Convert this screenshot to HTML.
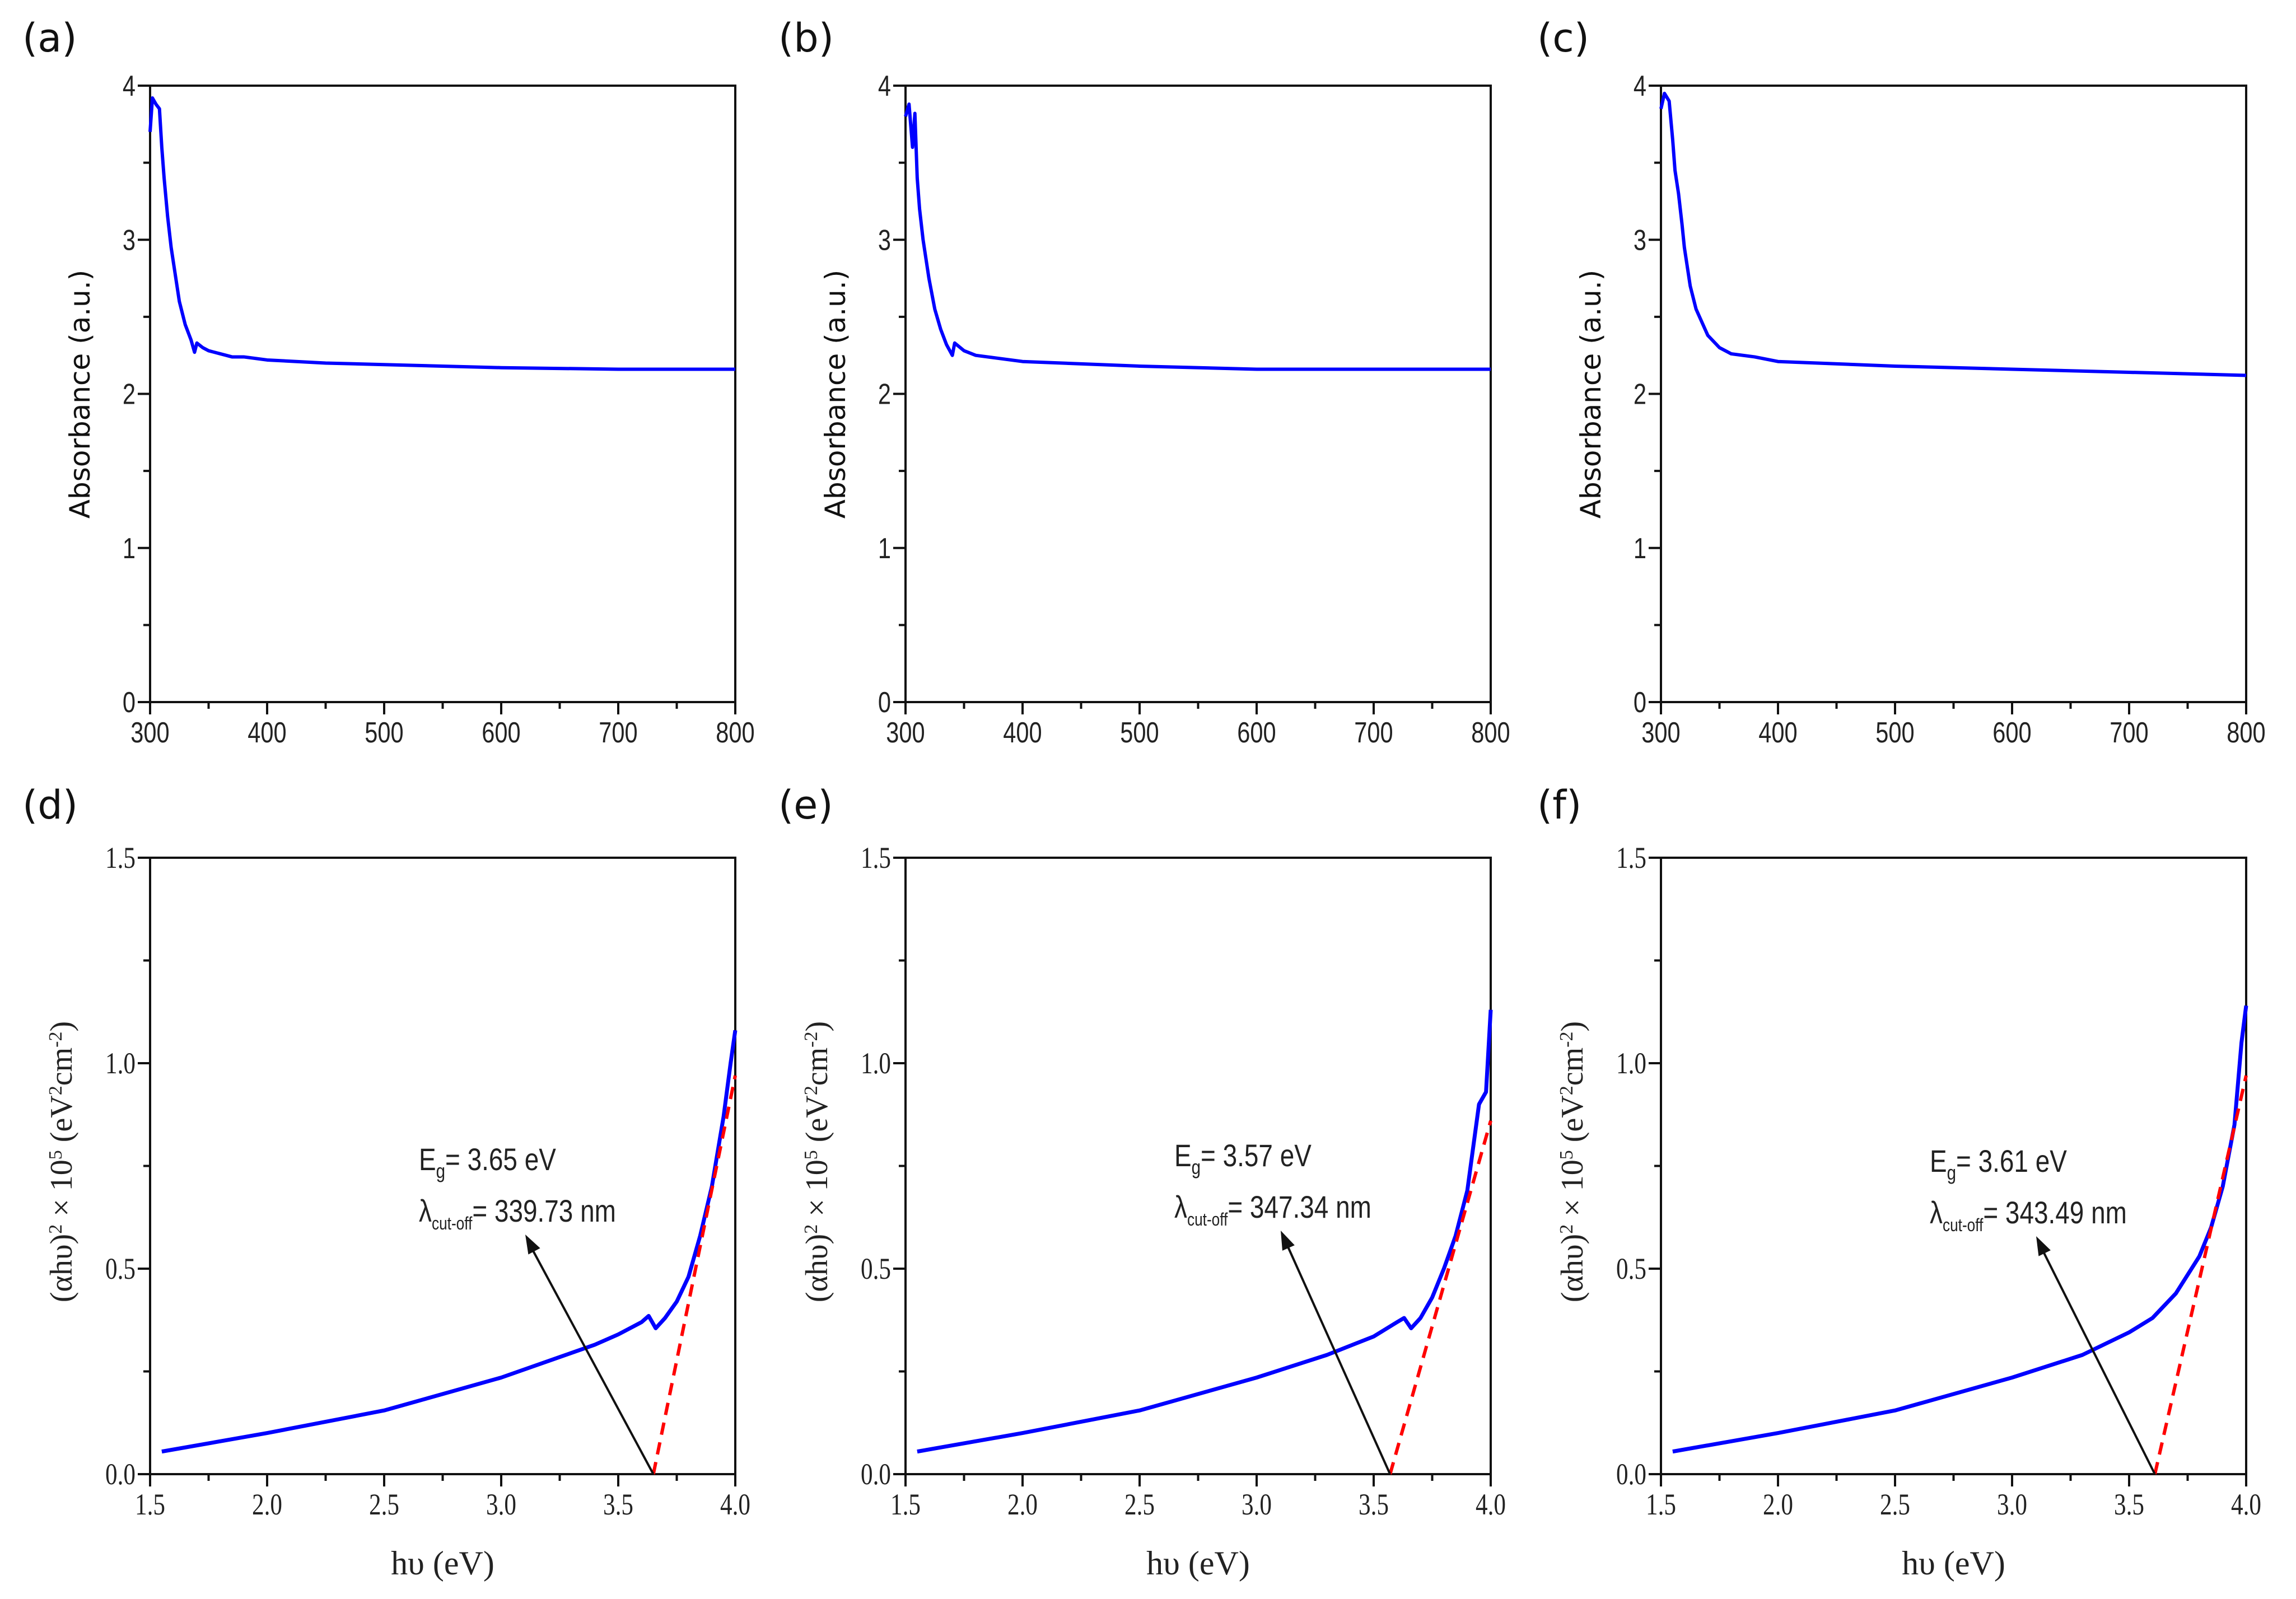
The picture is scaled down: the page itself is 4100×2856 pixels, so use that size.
<!DOCTYPE html>
<html><head><meta charset="utf-8"><style>
html,body{margin:0;padding:0;background:#fff;}
svg{display:block;}
</style></head><body>
<svg id="fig" xmlns="http://www.w3.org/2000/svg" width="4100" height="2856" viewBox="0 0 4100 2856"></svg>
<script>
// ---- data ----
const absX_a = [300,302,305,308,310,312,315,318,320,325,330,335,338,340,345,350,360,370,380,400,450,500,600,700,800];
const absY_a = [3.7,3.92,3.88,3.85,3.6,3.4,3.15,2.95,2.85,2.6,2.45,2.35,2.27,2.33,2.3,2.28,2.26,2.24,2.24,2.22,2.2,2.19,2.17,2.16,2.16];
const absX_b = [300,303,306,308,310,312,315,318,320,325,330,335,340,342,350,360,380,400,500,600,800];
const absY_b = [3.8,3.88,3.6,3.82,3.4,3.2,3.0,2.85,2.75,2.55,2.42,2.32,2.25,2.33,2.28,2.25,2.23,2.21,2.18,2.16,2.16];
const absX_c = [300,303,307,310,312,315,318,320,325,330,340,350,360,380,400,500,600,700,800];
const absY_c = [3.85,3.95,3.9,3.65,3.45,3.3,3.1,2.95,2.7,2.55,2.38,2.3,2.26,2.24,2.21,2.18,2.16,2.14,2.12];
const tX_d = [1.55,2.0,2.5,3.0,3.25,3.4,3.5,3.6,3.63,3.66,3.7,3.75,3.8,3.85,3.9,3.95,3.98,4.0];
const tY_d = [0.055,0.1,0.155,0.235,0.285,0.315,0.34,0.37,0.385,0.355,0.38,0.42,0.48,0.58,0.7,0.87,1.0,1.08];
const tX_e = [1.55,2.0,2.5,3.0,3.3,3.5,3.6,3.63,3.66,3.7,3.75,3.8,3.85,3.9,3.95,3.98,4.0];
const tY_e = [0.055,0.1,0.155,0.235,0.29,0.335,0.37,0.38,0.355,0.38,0.43,0.5,0.58,0.69,0.9,0.93,1.13];
const tX_f = [1.55,2.0,2.5,3.0,3.3,3.5,3.6,3.7,3.8,3.85,3.9,3.95,3.98,4.0];
const tY_f = [0.055,0.1,0.155,0.235,0.29,0.345,0.38,0.44,0.53,0.6,0.7,0.85,1.05,1.14];
const fitX_d = [3.65,4.0]; const fitY_d = [0,0.97];
const fitX_e = [3.57,4.0]; const fitY_e = [0,0.86];
const fitX_f = [3.61,4.0]; const fitY_f = [0,0.97];
const topXTicks = [300,400,500,600,700,800];
const topYTicks = [0,1,2,3,4];
const botXTicks = ["1.5","2.0","2.5","3.0","3.5","4.0"];
const botYTicks = ["0.0","0.5","1.0","1.5"];
const egLabels = ["3.65 eV","3.57 eV","3.61 eV"];
const cutLabels = ["339.73 nm","347.34 nm","343.49 nm"];
const panelLetters = ["(a)","(b)","(c)","(d)","(e)","(f)"];

const NS="http://www.w3.org/2000/svg";
const svg=document.getElementById('fig');
function mk(tag,attrs,parent){const e=document.createElementNS(NS,tag);for(const k in attrs)e.setAttribute(k,attrs[k]);(parent||svg).appendChild(e);return e;}
function ntext(g,x,y,anchor,font,fs,sc){return mk('text',{transform:`translate(${x},${y}) scale(${sc},1)`,x:0,y:0,'text-anchor':anchor,'font-family':font,'font-size':fs,fill:'#222'},g);}

const lefts=[268,1617,2966], W=1045;
const SANS='"Liberation Sans",sans-serif';
const SERIF='"Liberation Serif",serif';

function axes(g,L,T,B,xmin,xmax,ymin,ymax,xt,yt,xminor,yminor,font,fs,sc){
  const sx=v=>L+(v-xmin)/(xmax-xmin)*W, sy=v=>B-(v-ymin)/(ymax-ymin)*(B-T);
  const fr=mk('rect',{x:L,y:T,width:W,height:B-T,fill:'none',stroke:'#111','stroke-width':4},g);
  
  for(let v=xmin;v<=xmax+1e-9;v+=xminor){const maj=xt.some(t=>Math.abs(+t-v)<1e-6);
    mk('line',{x1:sx(v),x2:sx(v),y1:B,y2:B+(maj?22:12),stroke:'#111','stroke-width':4},g);}
  for(let v=ymin;v<=ymax+1e-9;v+=yminor){const maj=yt.some(t=>Math.abs(+t-v)<1e-6);
    mk('line',{x1:L,x2:L-(maj?22:12),y1:sy(v),y2:sy(v),stroke:'#111','stroke-width':4},g);}
  xt.forEach(t=>{const e=ntext(g,sx(+t),B+72,'middle',font,fs,sc);e.textContent=t;
    });
  yt.forEach(t=>{const e=ntext(g,L-26,sy(+t)+18,'end',font,fs,sc);e.textContent=t;
    });
  return [sx,sy];
}
function line(g,xs,ys,sx,sy,attrs){return mk('polyline',Object.assign({points:xs.map((x,i)=>sx(x)+','+sy(ys[i])).join(' '),fill:'none'},attrs),g);}

panelLetters.forEach((p,i)=>{const e=mk('text',{x:[40,1390,2745][i%3],y:i<3?92:1462,'font-family':'"DejaVu Sans",sans-serif','font-size':70,fill:'#111'});e.textContent=p;
  });

const absData=[[absX_a,absY_a],[absX_b,absY_b],[absX_c,absY_c]];
absData.forEach((d,i)=>{
  const g=mk('g',{});
  const L=lefts[i];
  const [sx,sy]=axes(g,L,153,1254,300,800,0,4,topXTicks.map(String),topYTicks.map(String),50,0.5,SANS,52,0.8);
  const pl=line(g,d[0],d[1],sx,sy,{stroke:'#0000ff','stroke-width':6,'stroke-linejoin':'round'});
  
  const t=mk('text',{transform:`translate(${L-108},704) rotate(-90)`,'text-anchor':'middle','font-family':'"DejaVu Sans",sans-serif','font-size':50,fill:'#111'},g);
  t.textContent='Absorbance (a.u.)';
});

const taucData=[[tX_d,tY_d,fitX_d,fitY_d],[tX_e,tY_e,fitX_e,fitY_e],[tX_f,tY_f,fitX_f,fitY_f]];
const annY=[2090,2083,2093];
taucData.forEach((d,i)=>{
  const g=mk('g',{});
  const L=lefts[i];
  const [sx,sy]=axes(g,L,1532,2633,1.5,4.0,0,1.5,botXTicks,botYTicks,0.25,0.25,SERIF,54,0.8);
  const pl=line(g,d[0],d[1],sx,sy,{stroke:'#0000ff','stroke-width':7,'stroke-linejoin':'round'});
  
  const fl=line(g,d[2],d[3],sx,sy,{stroke:'#ff0000','stroke-width':6,'stroke-dasharray':'22,14'});
  
  const xt=mk('text',{x:L+W*0.5,y:2812,'text-anchor':'middle','font-family':SERIF,'font-size':60,fill:'#222'},g);
  xt.textContent='hυ (eV)';
  const yt=mk('text',{transform:`translate(${L-140},2075) rotate(-90)`,'text-anchor':'middle','font-family':SERIF,'font-size':56,fill:'#222'},g);
  yt.innerHTML='(αhυ)<tspan baseline-shift="super" font-size="34">2</tspan> × 10<tspan baseline-shift="super" font-size="34">5</tspan> (eV<tspan baseline-shift="super" font-size="34">2</tspan>cm<tspan baseline-shift="super" font-size="34">-2</tspan>)';
  
  const tx=L+480, ty=annY[i];
  const e1=ntext(g,tx,ty,'start',SANS,56,0.82);
  e1.innerHTML='E<tspan font-size="36" dy="14">g</tspan><tspan dy="-14">= '+egLabels[i]+'</tspan>';
  
  const e2=ntext(g,tx,ty+92,'start',SANS,56,0.82);
  e2.innerHTML='λ<tspan font-size="32" dy="14">cut-off</tspan><tspan dy="-14">= '+cutLabels[i]+'</tspan>';
  
  const x0=sx(d[2][0]), y0=2633, x1=L+670, y1=ty+115;
  const ar=mk('line',{x1:x0,y1:y0,x2:x1+8,y2:y1+18,stroke:'#111','stroke-width':4},g);
  
  const ang=Math.atan2(y1-y0,x1-x0),hl=34,hw=12;
  const bx=x1-hl*Math.cos(ang),by=y1-hl*Math.sin(ang);
  mk('polygon',{points:`${x1},${y1} ${bx+hw*Math.sin(ang)},${by-hw*Math.cos(ang)} ${bx-hw*Math.sin(ang)},${by+hw*Math.cos(ang)}`,fill:'#111'},g);
});
</script>
</body></html>
